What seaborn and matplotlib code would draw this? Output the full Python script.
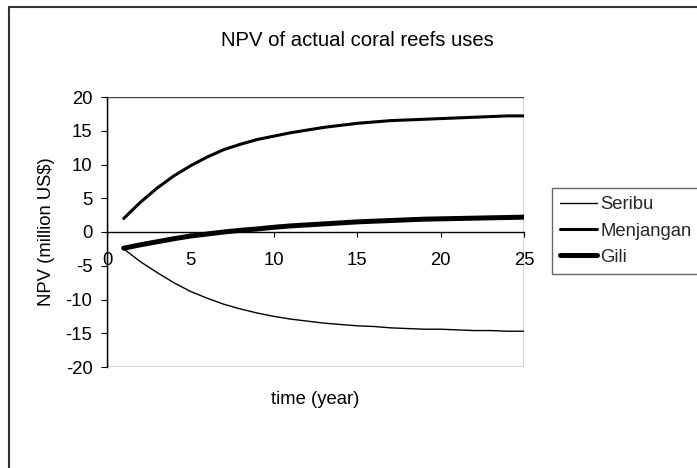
import matplotlib
matplotlib.use("Agg")
import matplotlib.pyplot as plt
from matplotlib.lines import Line2D
from matplotlib.patches import Rectangle
import seaborn as sns
import pandas as pd

years = list(range(1, 26))
seribu = [-2.5, -4.4, -6.0, -7.5, -8.8, -9.8, -10.7, -11.4, -12.0, -12.5,
          -12.9, -13.2, -13.5, -13.7, -13.9, -14.0, -14.2, -14.3, -14.4, -14.4,
          -14.5, -14.6, -14.6, -14.7, -14.7]
menjangan = [2.0, 4.4, 6.5, 8.3, 9.8, 11.1, 12.2, 13.0, 13.7, 14.2,
             14.7, 15.1, 15.5, 15.8, 16.1, 16.3, 16.5, 16.6, 16.7, 16.8,
             16.9, 17.0, 17.1, 17.2, 17.2]
gili = [-2.4, -1.9, -1.45, -1.0, -0.6, -0.3, 0.0, 0.25, 0.45, 0.7,
        0.9, 1.05, 1.2, 1.35, 1.5, 1.6, 1.7, 1.8, 1.9, 1.95,
        2.0, 2.05, 2.1, 2.15, 2.2]
series_names = ["Seribu", "Menjangan", "Gili"]
x_ticks = [0, 5, 10, 15, 20, 25]
y_ticks = [-20, -15, -10, -5, 0, 5, 10, 15, 20]

sns.set_theme(style="white")
plt.rcParams["font.family"] = ["Liberation Sans", "DejaVu Sans"]

FS = 13.3
W, H = 697, 468
fig = plt.figure(figsize=(W / 100, H / 100), dpi=100)
L, R, T, B = 107, 524, 97, 367
ax = fig.add_axes([L / W, 1 - B / H, (R - L) / W, (B - T) / H])

widths = {"Seribu": 1.0, "Menjangan": 2.2, "Gili": 3.6}
data = {"Seribu": seribu, "Menjangan": menjangan, "Gili": gili}
for name in series_names:
    df = pd.DataFrame({"year": years, "npv": data[name]})
    sns.lineplot(data=df, x="year", y="npv", ax=ax, color="black",
                 linewidth=widths[name], label=name, legend=False)

ax.set_xlim(0, 25)
ax.set_ylim(-20, 20)
ax.set_xticks(x_ticks)
ax.set_yticks(y_ticks)
ax.set_xticklabels([str(v) for v in x_ticks])
ax.set_yticklabels([str(v) for v in y_ticks])

for s in ["top", "right"]:
    ax.spines[s].set_visible(False)
ax.spines["bottom"].set_position(("data", 0))
ax.spines["bottom"].set_color("black")
ax.spines["bottom"].set_linewidth(1.0)
ax.spines["left"].set_color("black")
ax.spines["left"].set_linewidth(1.0)
ax.add_patch(Rectangle((0, 0), 1, 1, transform=ax.transAxes, fill=False,
                       edgecolor="#404040", linewidth=1.0, zorder=0.5))

ax.tick_params(axis="x", direction="out", length=3.5, width=0.8, color="black",
               pad=11, labelsize=FS, labelcolor="black", bottom=True)
ax.tick_params(axis="y", direction="out", length=4.5, width=0.8, color="black",
               pad=6, labelsize=FS, labelcolor="black", left=True)

ax.set_xlabel("time (year)", fontsize=FS, color="black", va="center")
ax.xaxis.set_label_coords(0.5, -(399 - B) / (B - T))
ax.set_ylabel("NPV (million US$)", fontsize=FS, color="black", va="center")
ax.yaxis.set_label_coords((47 - L) / (R - L), 0.5)

fig.text(357 / W, 1 - 40 / H, "NPV of actual coral reefs uses", fontsize=14.6,
         ha="center", va="center", color="black")

handles = [Line2D([], [], color="black", linewidth=widths[n]) for n in series_names]
leg = fig.legend(handles, series_names, loc="upper left",
                 bbox_to_anchor=(552 / W, 1 - 188 / H), borderaxespad=0,
                 fontsize=FS, frameon=True, fancybox=False, shadow=False,
                 handlelength=2.0, handletextpad=0.15, labelspacing=0.5,
                 borderpad=0.45)
leg.get_frame().set_edgecolor("#404040")
leg.get_frame().set_linewidth(1.0)

# outer chart border
fig.add_artist(Line2D([9 / W, 1], [1 - 7 / H, 1 - 7 / H], transform=fig.transFigure,
                      color="#333333", linewidth=1.5))
fig.add_artist(Line2D([9 / W, 9 / W], [0, 1 - 7 / H], transform=fig.transFigure,
                      color="#333333", linewidth=1.5))

fig.savefig("out.png", dpi=100, facecolor="white")
